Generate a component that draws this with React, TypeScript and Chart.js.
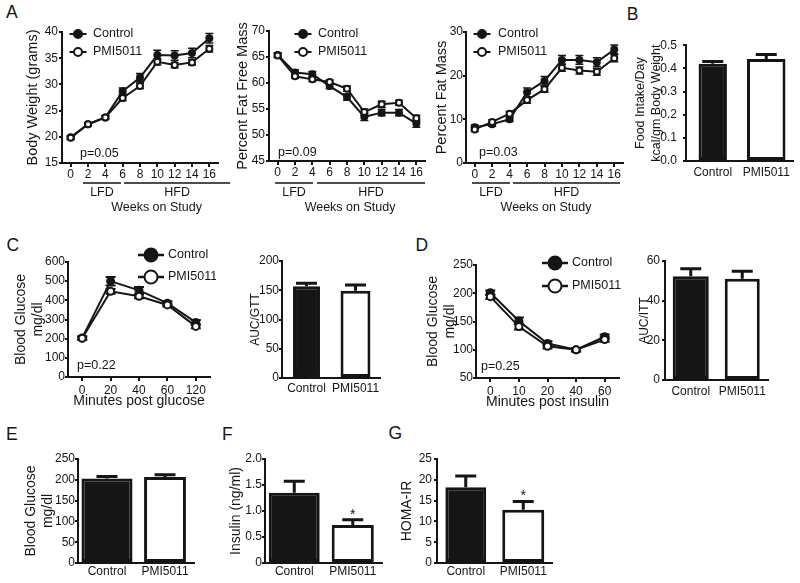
import React, { useEffect, useRef } from "react";
import { Chart, registerables } from "chart.js";

Chart.register(...registerables);

const FONT = "'Liberation Sans', Arial, Helvetica, sans-serif";
const INK = "#151515";
Chart.defaults.font.family = FONT;
Chart.defaults.color = INK;

// ---------------- data ----------------
const groups = ["Control", "PMI5011"];

const weekLabels = ["0", "2", "4", "6", "8", "10", "12", "14", "16"];
const bodyWeightControl = [19.9, 22.4, 23.7, 28.7, 31.3, 35.6, 35.5, 36.0, 38.8];
const bodyWeightControlSem = [0.3, 0.3, 0.3, 0.6, 0.8, 0.9, 0.9, 0.9, 0.9];
const bodyWeightPmi = [19.8, 22.4, 23.7, 27.4, 29.7, 34.3, 33.7, 34.2, 36.8];
const bodyWeightPmiSem = [0.3, 0.3, 0.3, 0.5, 0.5, 0.6, 0.5, 0.5, 0.6];

const fatFreeControl = [65.4, 62.0, 61.7, 59.4, 57.3, 53.5, 54.3, 54.3, 52.2];
const fatFreeControlSem = [0.4, 0.5, 0.5, 0.5, 0.6, 0.7, 0.6, 0.6, 0.7];
const fatFreePmi = [65.3, 61.3, 60.7, 60.2, 58.9, 54.4, 55.9, 56.2, 53.2];
const fatFreePmiSem = [0.4, 0.4, 0.4, 0.4, 0.5, 0.6, 0.6, 0.5, 0.6];

const fatMassControl = [8.2, 8.9, 10.0, 16.2, 18.8, 23.6, 23.6, 23.1, 26.0];
const fatMassControlSem = [0.5, 0.5, 0.5, 1.0, 1.0, 1.0, 1.0, 1.0, 1.0];
const fatMassPmi = [7.7, 9.4, 11.3, 14.4, 16.9, 21.8, 21.2, 20.9, 24.0];
const fatMassPmiSem = [0.5, 0.5, 0.5, 0.7, 0.7, 0.8, 0.8, 0.8, 0.8];

const foodIntake = [0.42, 0.44];
const foodIntakeSem = [0.01, 0.02];

const gttMinutes = ["0", "20", "40", "60", "120"];
const gttControl = [204, 500, 452, 385, 285];
const gttControlSem = [8, 22, 18, 10, 12];
const gttPmi = [202, 447, 421, 376, 264];
const gttPmiSem = [8, 12, 10, 8, 10];
const gttAuc = [157, 149];
const gttAucSem = [5, 10];

const ittMinutes = ["0", "10", "20", "40", "60"];
const ittControl = [201, 151, 111, 100, 123];
const ittControlSem = [4, 6, 4, 3, 4];
const ittPmi = [194, 141, 106, 100, 118];
const ittPmiSem = [4, 5, 4, 3, 4];
const ittAuc = [52.3, 51.1];
const ittAucSem = [3.8, 3.7];

const fastingGlucose = [203, 207];
const fastingGlucoseSem = [5, 5];
const insulin = [1.35, 0.73];
const insulinSem = [0.22, 0.1];
const homaIr = [18.2, 12.8];
const homaIrSem = [2.7, 2.0];
const significance = ["", "*"];

// ---------------- helpers ----------------
type Box = { L: number; T: number; R: number; B: number; cl: number; pt: number; pr: number; cb: number };
type Frame = { left: number; top: number; width: number; height: number; yw: number; xh: number; pt: number; pr: number };

function frame(b: Box): Frame {
  const top = b.T - b.pt;
  return {
    left: b.cl,
    top,
    width: b.R + b.pr - b.cl,
    height: b.cb - top,
    yw: b.L - b.cl,
    xh: b.cb - b.B,
    pt: b.pt,
    pr: b.pr,
  };
}

function yAxis(o: any) {
  const ticks: any = { stepSize: o.step, padding: o.pad ?? 1, font: { size: 12 }, color: INK };
  if (o.fmt) ticks.callback = o.fmt;
  return {
    type: "linear",
    min: o.min,
    max: o.max,
    ticks,
    grid: { display: true, drawOnChartArea: false, drawTicks: true, tickLength: 3, color: INK, lineWidth: 2 },
    border: { display: true, color: INK, width: 2 },
    title: { display: true, text: o.title, color: INK, padding: 0, font: { size: o.size, lineHeight: o.lh } },
    afterFit: (s: any) => {
      s.width = o.yw;
    },
  };
}

function xAxis(o: any) {
  const t: any = {
    type: "category",
    offset: true,
    ticks: { padding: o.pad, font: { size: 12 }, color: INK, autoSkip: false, maxRotation: 0, minRotation: 0 },
    grid: {
      display: o.marks,
      drawOnChartArea: false,
      drawTicks: o.marks,
      tickLength: o.marks ? 4 : 0,
      color: INK,
      lineWidth: 2,
      offset: false,
    },
    border: { display: true, color: INK, width: 2 },
    afterFit: (s: any) => {
      s.height = o.xh;
    },
  };
  if (o.title) t.title = { display: true, text: o.title, color: INK, padding: 0, font: { size: 14, lineHeight: 1.2 } };
  return t;
}

function common(f: Frame) {
  return {
    responsive: false,
    maintainAspectRatio: false,
    animation: false,
    devicePixelRatio: 1,
    events: [],
    layout: { padding: { top: f.pt, right: f.pr, left: 0, bottom: 0 } },
    plugins: { legend: { display: false }, tooltip: { enabled: false }, title: { display: false } },
  };
}

function lineSets(ctrl: number[], ctrlSem: number[], pmi: number[], pmiSem: number[], r: number) {
  const base = {
    borderColor: INK,
    borderWidth: 2,
    pointRadius: r,
    pointBorderWidth: 2,
    pointBorderColor: INK,
    clip: false,
    tension: 0,
  };
  return [
    { ...base, label: groups[0], data: ctrl, sem: ctrlSem, pointBackgroundColor: INK, order: 1 },
    { ...base, label: groups[1], data: pmi, sem: pmiSem, pointBackgroundColor: "#ffffff", order: 0 },
  ];
}

function barSets(values: number[], sems: number[], widths: number[], stars?: string[]) {
  const base = { borderColor: INK, borderWidth: 3, categoryPercentage: 1, grouped: false, borderSkipped: false, clip: false };
  return [
    { ...base, label: groups[0], data: [values[0], null], sem: [sems[0], null], backgroundColor: INK, barPercentage: widths[0] },
    {
      ...base,
      label: groups[1],
      data: [null, values[1]],
      sem: [null, sems[1]],
      stars: stars ? [null, stars[1]] : undefined,
      backgroundColor: "#ffffff",
      barPercentage: widths[1],
    },
  ];
}

function decorPlugin(d: any) {
  const font = (s: number) => `${s}px ${FONT}`;
  function errs(chart: any, kind: string) {
    if (!d.err) return;
    const ctx = chart.ctx;
    const y = chart.scales.y;
    chart.data.datasets.forEach((ds: any, i: number) => {
      const meta = chart.getDatasetMeta(i);
      if (meta.type !== kind || !ds.sem) return;
      ds.data.forEach((v: any, j: number) => {
        const e = ds.sem[j];
        if (v == null || e == null) return;
        const el = meta.data[j];
        const x = el.x;
        const top = y.getPixelForValue(v + e);
        const base = kind === "line" ? y.getPixelForValue(v - e) : y.getPixelForValue(v);
        const c = d.err.cap / 2;
        ctx.save();
        ctx.strokeStyle = INK;
        ctx.lineWidth = d.err.lw;
        ctx.beginPath();
        ctx.moveTo(x, base);
        ctx.lineTo(x, top);
        ctx.moveTo(x - c, top);
        ctx.lineTo(x + c, top);
        if (kind === "line") {
          ctx.moveTo(x - c, base);
          ctx.lineTo(x + c, base);
        }
        ctx.stroke();
        if (ds.stars && ds.stars[j]) {
          ctx.fillStyle = INK;
          ctx.font = font(d.star.size);
          ctx.textAlign = "center";
          ctx.textBaseline = "alphabetic";
          ctx.fillText(ds.stars[j], x, top - d.star.dy);
        }
        ctx.restore();
      });
    });
  }
  return {
    id: "decor",
    beforeDatasetsDraw(chart: any) {
      errs(chart, "line");
    },
    afterDatasetsDraw(chart: any) {
      errs(chart, "bar");
      const { ctx, chartArea: a } = chart;
      ctx.save();
      if (d.legend) {
        const g = d.legend;
        chart.data.datasets.forEach((ds: any, i: number) => {
          const y = a.top + g.dy + i * g.gap;
          const x = a.left + g.dx;
          ctx.strokeStyle = INK;
          ctx.lineWidth = g.lw;
          ctx.beginPath();
          ctx.moveTo(x - g.len / 2, y);
          ctx.lineTo(x + g.len / 2, y);
          ctx.stroke();
          ctx.beginPath();
          ctx.arc(x, y, g.r, 0, Math.PI * 2);
          ctx.fillStyle = ds.pointBackgroundColor;
          ctx.fill();
          ctx.lineWidth = 2;
          ctx.stroke();
          ctx.fillStyle = INK;
          ctx.font = font(g.size);
          ctx.textAlign = "left";
          ctx.textBaseline = "middle";
          ctx.fillText(ds.label, a.left + g.tx, y);
        });
      }
      if (d.p) {
        ctx.fillStyle = INK;
        ctx.font = font(12.5);
        ctx.textAlign = "left";
        ctx.textBaseline = "alphabetic";
        ctx.fillText(d.p.text, a.left + d.p.dx, a.bottom + d.p.dy);
      }
      if (d.diet) {
        const t = d.diet;
        const xs = chart.scales.x;
        const l0 = xs.getPixelForValue(t.lfd[0]);
        const l1 = xs.getPixelForValue(t.lfd[1]);
        const h0 = xs.getPixelForValue(t.hfd[0]);
        const h1 = xs.getPixelForValue(t.hfd[1]);
        const ly = a.bottom + t.lineDy;
        ctx.strokeStyle = INK;
        ctx.lineWidth = 1.5;
        ctx.beginPath();
        ctx.moveTo(l0, ly);
        ctx.lineTo(l1, ly);
        ctx.moveTo(h0, ly);
        ctx.lineTo(h1, ly);
        ctx.stroke();
        ctx.fillStyle = INK;
        ctx.font = font(12.5);
        ctx.textAlign = "center";
        ctx.textBaseline = "middle";
        ctx.fillText("LFD", (l0 + l1) / 2, a.bottom + t.labelDy);
        ctx.fillText("HFD", (h0 + h1) / 2, a.bottom + t.labelDy);
        ctx.fillText("Weeks on Study", (l0 + h1) / 2, a.bottom + t.titleDy);
      }
      ctx.restore();
    },
  };
}

function lineConfig(f: Frame, labels: string[], sets: any[], y: any, xTitle: string | undefined, xPad: number, decor: any) {
  return {
    type: "line",
    data: { labels, datasets: sets },
    options: {
      ...common(f),
      scales: {
        x: xAxis({ xh: f.xh, marks: true, pad: xPad, title: xTitle }),
        y: yAxis({ ...y, yw: f.yw }),
      },
    },
    plugins: [decorPlugin(decor)],
  };
}

function barConfig(f: Frame, sets: any[], y: any, xPad: number) {
  return {
    type: "bar",
    data: { labels: groups, datasets: sets },
    options: {
      ...common(f),
      scales: {
        x: xAxis({ xh: f.xh, marks: false, pad: xPad }),
        y: yAxis({ ...y, yw: f.yw }),
      },
    },
    plugins: [decorPlugin({ err: { lw: 3, cap: 21 }, star: { size: 14, dy: 1 } })],
  };
}

// ---------------- panels ----------------
const panels: { box: Box; make: (f: Frame) => any }[] = [
  {
    box: { L: 62, T: 32, R: 218, B: 163, cl: 24, pt: 12, pr: 16, cb: 216 },
    make: (f) =>
      lineConfig(
        f,
        weekLabels,
        lineSets(bodyWeightControl, bodyWeightControlSem, bodyWeightPmi, bodyWeightPmiSem, 3),
        { min: 15, max: 40, step: 5, title: "Body Weight (grams)", size: 14.5, lh: 1.2, pad: 1 },
        undefined,
        0,
        {
          err: { lw: 1.5, cap: 8 },
          legend: { dx: 16, dy: 2, gap: 18, r: 4, len: 17, lw: 2, tx: 31, size: 12.5 },
          p: { text: "p=0.05", dx: 18, dy: -6 },
          diet: { lfd: [0.71, 2.9], hfd: [3.08, 9.2], lineDy: 20, labelDy: 30, titleDy: 45 },
        }
      ),
  },
  {
    box: { L: 269, T: 31, R: 425, B: 161, cl: 234, pt: 12, pr: 6, cb: 216 },
    make: (f) =>
      lineConfig(
        f,
        weekLabels,
        lineSets(fatFreeControl, fatFreeControlSem, fatFreePmi, fatFreePmiSem, 3),
        { min: 45, max: 70, step: 5, title: "Percent Fat Free Mass", size: 14.5, lh: 1.2, pad: 1 },
        undefined,
        0,
        {
          err: { lw: 1.5, cap: 8 },
          legend: { dx: 34, dy: 3, gap: 18, r: 4, len: 17, lw: 2, tx: 49, size: 12.5 },
          p: { text: "p=0.09", dx: 9, dy: -5 },
          diet: { lfd: [-0.15, 2.04], hfd: [2.27, 8.5], lineDy: 22, labelDy: 32, titleDy: 47 },
        }
      ),
  },
  {
    box: { L: 466, T: 32, R: 623, B: 163, cl: 433, pt: 12, pr: 6, cb: 216 },
    make: (f) =>
      lineConfig(
        f,
        weekLabels,
        lineSets(fatMassControl, fatMassControlSem, fatMassPmi, fatMassPmiSem, 3),
        { min: 0, max: 30, step: 10, title: "Percent Fat Mass", size: 14.5, lh: 1.2, pad: 0 },
        undefined,
        0,
        {
          err: { lw: 1.5, cap: 8 },
          legend: { dx: 16, dy: 2, gap: 18, r: 4, len: 17, lw: 2, tx: 32, size: 12.5 },
          p: { text: "p=0.03", dx: 13, dy: -7 },
          diet: { lfd: [-0.16, 2.02], hfd: [2.19, 8.33], lineDy: 20, labelDy: 30, titleDy: 45 },
        }
      ),
  },
  {
    box: { L: 686, T: 44, R: 793, B: 161, cl: 632, pt: 12, pr: 5, cb: 185 },
    make: (f) =>
      barConfig(
        f,
        barSets(foodIntake, foodIntakeSem, [0.53, 0.72]),
        {
          min: 0,
          max: 0.5,
          step: 0.1,
          title: ["Food Intake/Day", "kcal/gm Body Weight"],
          size: 12.5,
          lh: 1.3,
          pad: 6,
          fmt: (v: any) => Number(v).toFixed(1),
        },
        4
      ),
  },
  {
    box: { L: 68, T: 262, R: 210, B: 377, cl: 12, pt: 20, pr: 6, cb: 410 },
    make: (f) =>
      lineConfig(
        f,
        gttMinutes,
        lineSets(gttControl, gttControlSem, gttPmi, gttPmiSem, 3.5),
        { min: 0, max: 600, step: 100, title: ["Blood Glucose", "mg/dl"], size: 14, lh: 1.25, pad: 0 },
        "Minutes post glucose",
        2,
        {
          err: { lw: 2, cap: 10 },
          legend: { dx: 83, dy: -7, gap: 22, r: 6.5, len: 26, lw: 2.5, tx: 100, size: 12.5 },
          p: { text: "p=0.22", dx: 9, dy: -8 },
        }
      ),
  },
  {
    box: { L: 282, T: 261, R: 380, B: 378, cl: 248, pt: 12, pr: 5, cb: 400 },
    make: (f) =>
      barConfig(f, barSets(gttAuc, gttAucSem, [0.55, 0.61]), { min: 0, max: 200, step: 50, title: "AUC/GTT", size: 12, lh: 1.2, pad: 0 }, 3),
  },
  {
    box: { L: 476, T: 265, R: 619, B: 378, cl: 424, pt: 20, pr: 6, cb: 411 },
    make: (f) =>
      lineConfig(
        f,
        ittMinutes,
        lineSets(ittControl, ittControlSem, ittPmi, ittPmiSem, 3.5),
        { min: 50, max: 250, step: 50, title: ["Blood Glucose", "mg/dl"], size: 14, lh: 1.25, pad: 0 },
        "Minutes post insulin",
        2,
        {
          err: { lw: 2, cap: 10 },
          legend: { dx: 79, dy: -2, gap: 23, r: 6.5, len: 26, lw: 2.5, tx: 96, size: 12.5 },
          p: { text: "p=0.25", dx: 5, dy: -8 },
        }
      ),
  },
  {
    box: { L: 665, T: 261, R: 768, B: 380, cl: 637, pt: 12, pr: 5, cb: 402 },
    make: (f) =>
      barConfig(f, barSets(ittAuc, ittAucSem, [0.7, 0.68]), { min: 0, max: 60, step: 20, title: "AUC/ITT", size: 12, lh: 1.2, pad: 2 }, 4),
  },
  {
    box: { L: 78, T: 459, R: 194, B: 563, cl: 22, pt: 12, pr: 5, cb: 580 },
    make: (f) =>
      barConfig(
        f,
        barSets(fastingGlucose, fastingGlucoseSem, [0.88, 0.72]),
        { min: 0, max: 250, step: 50, title: ["Blood Glucose", "mg/dl"], size: 14, lh: 1.25, pad: 0 },
        1
      ),
  },
  {
    box: { L: 265, T: 459, R: 382, B: 563, cl: 228, pt: 12, pr: 5, cb: 580 },
    make: (f) =>
      barConfig(
        f,
        barSets(insulin, insulinSem, [0.87, 0.72], significance),
        {
          min: 0,
          max: 2,
          step: 0.5,
          title: "Insulin (ng/ml)",
          size: 14,
          lh: 1.2,
          pad: 0,
          fmt: (v: any) => (Number(v) === 0 ? "0" : Number(v).toFixed(1)),
        },
        1
      ),
  },
  {
    box: { L: 437, T: 459, R: 552, B: 563, cl: 399, pt: 12, pr: 5, cb: 580 },
    make: (f) =>
      barConfig(f, barSets(homaIr, homaIrSem, [0.71, 0.73], significance), { min: 0, max: 25, step: 5, title: "HOMA-IR", size: 14, lh: 1.2, pad: 2 }, 1),
  },
];

const letters = [
  { t: "A", x: 6, y: 4.4 },
  { t: "B", x: 626.7, y: 6 },
  { t: "C", x: 6.5, y: 237 },
  { t: "D", x: 415.4, y: 237 },
  { t: "E", x: 6, y: 426 },
  { t: "F", x: 222, y: 426 },
  { t: "G", x: 388.5, y: 425 },
];

function Panel({ box, make }: { box: Box; make: (f: Frame) => any }) {
  const ref = useRef<HTMLCanvasElement | null>(null);
  const f = frame(box);
  useEffect(() => {
    if (!ref.current) return;
    const chart = new Chart(ref.current, make(f));
    return () => chart.destroy();
  }, []);
  return (
    <canvas
      ref={ref}
      width={f.width}
      height={f.height}
      style={{ position: "absolute", left: f.left, top: f.top, width: f.width, height: f.height }}
    />
  );
}

export default function App() {
  return (
    <div style={{ position: "absolute", left: 0, top: 0, width: 800, height: 583, background: "#fff", overflow: "hidden" }}>
      {letters.map((l) => (
        <div
          key={l.t}
          style={{
            position: "absolute",
            left: l.x,
            top: l.y,
            fontFamily: FONT,
            fontSize: 17.5,
            lineHeight: "17.5px",
            color: INK,
          }}
        >
          {l.t}
        </div>
      ))}
      {panels.map((p, i) => (
        <Panel key={i} box={p.box} make={p.make} />
      ))}
    </div>
  );
}
